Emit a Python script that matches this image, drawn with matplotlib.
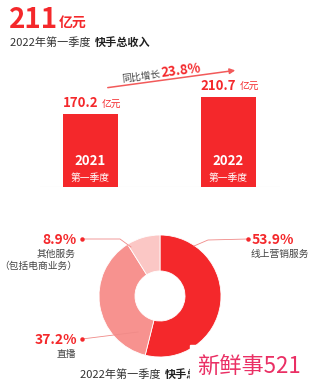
import matplotlib.pyplot as plt

plt.rcParams['font.family'] = ['Noto Sans CJK SC', 'DejaVu Sans']

W, H = 314, 387

# data
years = ["2021", "2022"]
quarter = "第一季度"
revenue = [170.2, 210.7]
growth_label = "23.8%"
total_label = "211"
segments = ["线上营销服务", "直播", "其他服务"]
shares = [53.9, 37.2, 8.9]

RED = '#f4282b'
seg_colors = [RED, '#f7928f', '#fbc7c5']
TXT = '#333333'


def px(x, y):
    return x / W, 1 - y / H


fig = plt.figure(figsize=(W / 100, H / 100), dpi=100)
fig.patch.set_facecolor('white')

# header
fig.text(*px(9, 28), total_label, color=RED, fontsize=20, fontweight='bold', va='baseline')
fig.text(*px(59, 27), "亿元", color=RED, fontsize=10, fontweight='bold', va='baseline')
fig.text(*px(10, 46), "2022年第一季度 ", color=TXT, fontsize=8, va='baseline')
fig.text(*px(95, 46), "快手总收入", color='#222222', fontsize=8, fontweight='bold', va='baseline')

# bar chart
left, right, bottom, top = 40, 280, 187, 60
bax = fig.add_axes([left / W, 1 - bottom / H, (right - left) / W, (bottom - top) / H])
xs = list(range(len(years)))
bars = bax.bar(xs, revenue, width=0.4, color=RED, zorder=2)
bax.set_xlim(-0.366, 1.373)
bax.set_ylim(0, 297)
bax.axis('off')
bax.axhline(0, color='#e6e6e6', lw=0.8, zorder=1)
for x, v, yr in zip(xs, revenue, years):
    bax.annotate(f"{v}", (x - 0.2, v), xytext=(0, 3), textcoords='offset points',
                 ha='left', va='bottom', color=RED, fontsize=9.5, fontweight='bold')
    bax.annotate("亿元", (x - 0.2, v), xytext=(28, 3.5), textcoords='offset points',
                 ha='left', va='bottom', color=RED, fontsize=7)
    bax.annotate(yr, (x, 0), xytext=(0, 14), textcoords='offset points',
                 ha='center', va='bottom', color='white', fontsize=9.5, fontweight='bold')
    bax.annotate(quarter, (x, 0), xytext=(0, 3), textcoords='offset points',
                 ha='center', va='bottom', color='white', fontsize=7)

# growth arrow
fig.add_artist(plt.matplotlib.patches.FancyArrowPatch(
    px(105, 88), px(238, 70), transform=fig.transFigure,
    arrowstyle='-|>', mutation_scale=8, color='#f25a5a', lw=1.1))
fig.text(*px(121, 82), "同比增长", color='#444444', fontsize=7, rotation=7, va='baseline')
fig.text(*px(160, 77), growth_label, color=RED, fontsize=9.5, fontweight='bold',
         rotation=7, va='baseline')

# donut
cx, cy, r = 160, 296, 61
pax = fig.add_axes([(cx - r) / W, 1 - (cy + r) / H, 2 * r / W, 2 * r / H])
pax.pie(shares, colors=seg_colors, startangle=90, counterclock=False,
        wedgeprops=dict(width=0.59, edgecolor='white', linewidth=0.6))
pax.set_xlim(-1, 1)
pax.set_ylim(-1, 1)
pax.set_aspect('equal')

# donut labels
def connector(pts):
    xs_, ys_ = zip(*[px(a, b) for a, b in pts])
    fig.add_artist(plt.Line2D(xs_, ys_, transform=fig.transFigure, color='#f08a88', lw=0.6))
    fig.add_artist(plt.Line2D([xs_[0]], [ys_[0]], transform=fig.transFigure,
                              marker='o', ms=2.2, color=RED, lw=0))

connector([(248, 239), (208, 240), (194, 246)])
fig.text(*px(252, 244), f"{shares[0]}%", color=RED, fontsize=10, fontweight='bold', va='baseline')
fig.text(*px(251, 257), segments[0], color='#444444', fontsize=7, va='baseline')

connector([(82, 239), (120, 239), (131, 247)])
fig.text(*px(77, 244), f"{shares[2]}%", color=RED, fontsize=10, fontweight='bold', va='baseline', ha='right')
fig.text(*px(76, 257), segments[2], color='#444444', fontsize=7, va='baseline', ha='right')
fig.text(*px(77, 269), "（包括电商业务）", color='#444444', fontsize=7, va='baseline', ha='right')

connector([(82, 339), (138, 332)])
fig.text(*px(77, 344), f"{shares[1]}%", color=RED, fontsize=10, fontweight='bold', va='baseline', ha='right')
fig.text(*px(76, 357), segments[1], color='#444444', fontsize=7, va='baseline', ha='right')

# bottom caption (partly hidden by the watermark, as in the source)
fig.text(*px(80, 378), "2022年第一季度 ", color=TXT, fontsize=8, va='baseline')
fig.text(*px(165, 378), "快手总收入", color='#222222', fontsize=8, fontweight='bold', va='baseline')

# watermark
fig.add_artist(plt.Rectangle(px(190, 387), 124 / W, 42 / H, transform=fig.transFigure,
                             color='white', zorder=5))
fig.text(*px(197, 373), "新鲜事521", color='#ea2f64', fontsize=16, va='baseline',
         zorder=6, fontweight='light')

fig.savefig('out.png', dpi=100, facecolor='white')
